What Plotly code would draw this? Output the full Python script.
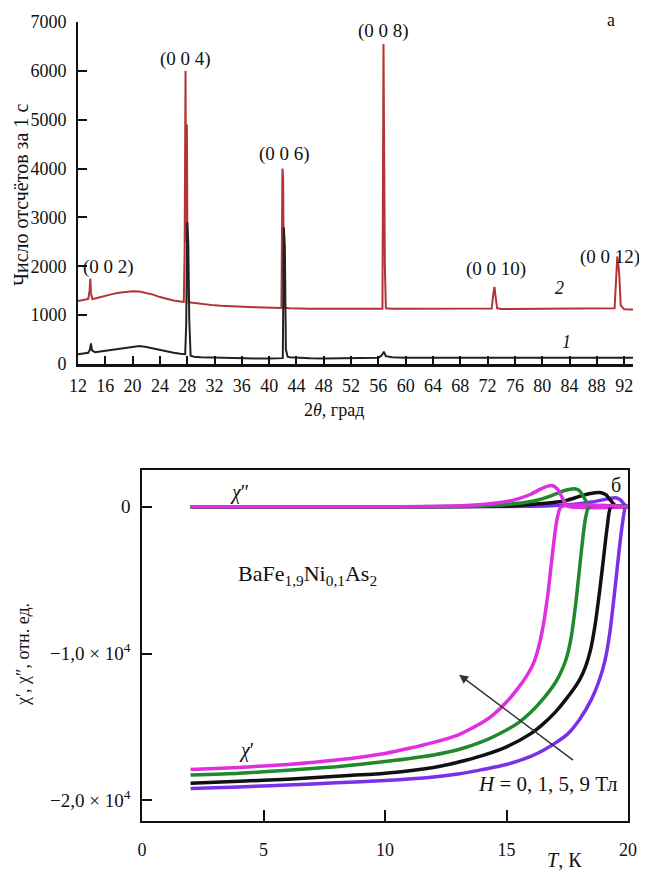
import plotly.graph_objects as go

# ---------------- top panel: XRD ----------------
tt_red = [12, 12.5, 13, 13.5, 13.7, 13.8, 13.9, 14.1, 14.5, 15, 16, 17, 18, 19, 20, 21, 22, 23, 24, 25, 26, 27,
          27.5, 27.62, 27.75, 27.85, 27.95, 28.05, 28.2, 28.5, 29, 30, 31, 32, 33, 34, 35, 36, 37, 38, 39, 40, 41,
          41.8, 41.95, 42.05, 42.15, 42.3, 43, 44, 46, 48, 50, 52, 54, 56, 56.6, 56.75, 56.85, 56.95, 57.1, 57.5,
          58, 60, 62, 64, 66, 68, 70, 72, 72.6, 72.85, 73.0, 73.15, 73.4, 74, 76, 78, 80, 82, 84, 86, 88, 90,
          90.6, 90.85, 91.0, 91.15, 91.3, 91.5, 92, 93, 93.3]
cnt_red = [1290, 1300, 1310, 1330, 1500, 1750, 1450, 1330, 1340, 1360, 1390, 1430, 1460, 1480, 1490, 1485, 1460,
           1420, 1370, 1330, 1300, 1280, 1270, 2300, 6000, 2500, 4900, 1800, 1260, 1260, 1250, 1230, 1215, 1200,
           1190, 1180, 1175, 1170, 1165, 1160, 1155, 1150, 1145, 1145, 4000, 3800, 1600, 1150, 1140, 1135, 1130,
           1130, 1130, 1130, 1130, 1130, 1130, 6550, 4400, 2000, 1140, 1135, 1130, 1130, 1130, 1130, 1130, 1130,
           1130, 1130, 1135, 1450, 1580, 1400, 1140, 1125, 1125, 1125, 1125, 1125, 1125, 1125, 1125, 1125,
           1140, 1800, 2200, 2050, 1800, 1200, 1120, 1115, 1115]

tt_blk = [12, 12.5, 13, 13.5, 13.75, 13.9, 14.05, 14.5, 15, 16, 17, 18, 19, 20, 21, 22, 23, 24, 25, 26, 27, 27.7,
          27.85, 28.0, 28.15, 28.3, 28.5, 29, 30, 32, 34, 36, 38, 40, 41, 42.0, 42.15, 42.3, 42.45, 42.7, 43, 44,
          46, 48, 50, 52, 54, 56, 56.5, 56.8, 57.1, 58, 60, 62, 64, 66, 68, 70, 72, 74, 76, 78, 80, 82, 84, 86,
          88, 90, 92, 93.3]
cnt_blk = [200, 210, 220, 230, 300, 420, 280, 240, 250, 270, 290, 320, 340, 360, 370, 350, 320, 280, 250, 230,
           210, 200, 800, 2900, 2500, 900, 170, 150, 140, 130, 125, 120, 115, 115, 115, 120, 2800, 2400, 300, 150,
           140, 130, 120, 115, 115, 115, 120, 130, 180, 250, 160, 140, 130, 130, 125, 130, 135, 130, 135, 130,
           135, 140, 130, 135, 140, 135, 140, 130, 130, 130]

xrd_tick_vals = [12, 16, 20, 24, 28, 32, 36, 40, 44, 48, 52, 56, 60, 64, 68, 72, 76, 80, 84, 88, 92]
cnt_tick_vals = [0, 1000, 2000, 3000, 4000, 5000, 6000, 7000]

peak_labels = ["(0 0 2)", "(0 0 4)", "(0 0 6)", "(0 0 8)", "(0 0 10)", "(0 0 12)"]
peak_label_x = [16.4, 27.7, 42.3, 56.8, 73.2, 89.9]
peak_label_y = [1980, 6240, 4290, 6810, 1950, 2180]

# ---------------- bottom panel: susceptibility ----------------
T_m = [2, 4, 6, 8, 10, 11, 12, 13, 14, 14.5, 15, 15.5, 15.8, 16.1, 16.3, 16.5, 16.7, 16.85, 17.0, 17.1, 17.25, 20]
chi1_m = [-17900, -17750, -17550, -17250, -16800, -16450, -16050, -15550, -14700, -14100, -13300, -12300, -11600,
          -10700, -9700, -8200, -6000, -3800, -1700, -700, 0, 0]
T_g = [2, 4, 6, 8, 10, 12, 13, 14, 15, 15.5, 16, 16.5, 17, 17.2, 17.45, 17.65, 17.85, 18.0, 18.15, 18.25, 18.4, 20]
chi1_g = [-18270, -18150, -17950, -17700, -17350, -16900, -16550, -16000, -15200, -14700, -14000, -13100, -12000,
          -11400, -10400, -9000, -6600, -4300, -2000, -800, 0, 0]
T_k = [2, 4, 6, 8, 10, 12, 13, 14, 15, 16, 16.5, 17, 17.5, 18, 18.25, 18.45, 18.65, 18.85, 19.0, 19.15, 19.3, 20]
chi1_k = [-18830, -18700, -18550, -18350, -18150, -17750, -17400, -16950, -16350, -15450, -14800, -14000, -13000,
          -11800, -10900, -9800, -8000, -5500, -3400, -1300, 0, 0]
T_p = [2, 4, 6, 8, 10, 12, 13, 14, 15, 16, 16.5, 17, 17.5, 18, 18.5, 18.8, 19.05, 19.25, 19.45, 19.6, 19.75, 19.9, 20]
chi1_p = [-19180, -19080, -18950, -18800, -18650, -18400, -18200, -17900, -17550, -17000, -16600, -16100, -15500,
          -14500, -13100, -11900, -10500, -8600, -5800, -3500, -1400, 0, 0]

T2_m = [2, 10, 13, 14, 15, 15.5, 16, 16.4, 16.7, 16.9, 17.1, 17.3, 17.5, 20]
chi2_m = [0, 0, 50, 150, 350, 550, 850, 1200, 1400, 1430, 1200, 600, 50, 0]
T2_g = [2, 10, 14, 15, 16, 16.5, 17, 17.4, 17.8, 18.0, 18.2, 18.4, 20]
chi2_g = [0, 0, 50, 150, 350, 550, 850, 1100, 1220, 1100, 600, 50, 0]
T2_k = [2, 10, 15, 16, 17, 17.5, 18, 18.4, 18.9, 19.1, 19.3, 19.5, 20]
chi2_k = [0, 0, 50, 150, 300, 450, 700, 880, 950, 800, 400, 50, 0]
T2_p = [2, 12, 16, 17, 18, 18.5, 19, 19.3, 19.5, 19.7, 19.85, 20]
chi2_p = [0, 0, 30, 80, 200, 320, 480, 580, 610, 450, 150, 0]

T_tick_vals = [0, 5, 10, 15, 20]
chi_tick_vals = [0, -10000, -20000]
chi_tick_text = ["0", "−1,0 × 10<sup>4</sup>", "−2,0 × 10<sup>4</sup>"]

MAG, GRN, BLK, PUR = "#e02ee0", "#1f8a2c", "#111111", "#7a30e8"
RED, DARK = "#b23434", "#222222"
FONT = "Liberation Serif"

W, H, OFF = 647, 881, 8  # page body margin offset compensation


def px(x):
    return (x - OFF) / W


def py(y):
    return 1 - (y - OFF) / H


fig = go.Figure()
fig.add_trace(go.Scatter(x=tt_red, y=cnt_red, mode="lines", line=dict(color=RED, width=2), xaxis="x", yaxis="y"))
fig.add_trace(go.Scatter(x=tt_blk, y=cnt_blk, mode="lines", line=dict(color=DARK, width=2), xaxis="x", yaxis="y"))

for T, v, c in [(T2_p, chi2_p, PUR), (T2_k, chi2_k, BLK), (T2_g, chi2_g, GRN), (T2_m, chi2_m, MAG)]:
    fig.add_trace(go.Scatter(x=T, y=v, mode="lines", line=dict(color=c, width=3.5, shape="spline", smoothing=0.6),
                             xaxis="x2", yaxis="y2"))
for T, v, c in [(T_p, chi1_p, PUR), (T_k, chi1_k, BLK), (T_g, chi1_g, GRN), (T_m, chi1_m, MAG)]:
    fig.add_trace(go.Scatter(x=T, y=v, mode="lines", line=dict(color=c, width=3.5, shape="spline", smoothing=0.6),
                             xaxis="x2", yaxis="y2"))

tickfont = dict(family=FONT, size=18, color="#111")
fig.update_layout(
    width=W, height=H, margin=dict(l=0, r=0, t=0, b=0, pad=0, autoexpand=False),
    paper_bgcolor="white", plot_bgcolor="white", showlegend=False,
    font=dict(family=FONT, size=18, color="#111"),
    xaxis=dict(domain=[px(78), px(633)], anchor="y", range=[12, 93.3], tickvals=xrd_tick_vals,
               ticks="inside", ticklen=8, tickwidth=1.5, tickcolor="#111", showline=True, linecolor="#111",
               linewidth=2.5, showgrid=False, zeroline=False, tickfont=tickfont, ticklabelstandoff=4,
               automargin=False),
    yaxis=dict(domain=[py(364), py(22)], anchor="x", range=[0, 7000], tickvals=cnt_tick_vals,
               ticks="inside", ticklen=9, tickwidth=2, tickcolor="#111", showline=True, linecolor="#111",
               linewidth=2, showgrid=False, zeroline=False, tickfont=tickfont, ticklabelstandoff=6,
               automargin=False),
    xaxis2=dict(domain=[px(142), px(628)], anchor="y2", range=[0, 20], tickvals=T_tick_vals,
                ticks="inside", ticklen=11, tickwidth=1.5, tickcolor="#111", showline=True, mirror=True,
                linecolor="#111", linewidth=1.5, showgrid=False, zeroline=False, tickfont=tickfont,
                ticklabelstandoff=12, automargin=False),
    yaxis2=dict(domain=[py(821), py(470)], anchor="x2", range=[-21400, 2500], tickvals=chi_tick_vals,
                ticktext=chi_tick_text, ticks="inside", ticklen=10, tickwidth=1.5, tickcolor="#111",
                showline=True, mirror=True, linecolor="#111", linewidth=1.5, showgrid=False, zeroline=False,
                tickfont=dict(family=FONT, size=19, color="#111"), ticklabelstandoff=6, automargin=False),
)

ann = []
for t, x, y in zip(peak_labels, peak_label_x, peak_label_y):
    ann.append(dict(text=t, x=x, y=y, xref="x", yref="y", showarrow=False, font=dict(size=19)))
ann += [
    dict(text="a", x=px(611), y=py(20), xref="paper", yref="paper", xanchor="center", yanchor="middle",
         showarrow=False, font=dict(size=18)),
    dict(text="<i>2</i>", x=82.6, y=1550, xref="x", yref="y", showarrow=False, font=dict(size=18)),
    dict(text="<i>1</i>", x=83.5, y=450, xref="x", yref="y", showarrow=False, font=dict(size=18)),
    dict(text="Число отсчётов за 1 с", x=px(21), y=py(195), xref="paper", yref="paper", textangle=-90,
         xanchor="center", yanchor="middle", showarrow=False, font=dict(size=20)),
    dict(text="2<i>θ</i>, град", x=px(334), y=py(410), xref="paper", yref="paper", xanchor="center",
         yanchor="middle", showarrow=False, font=dict(size=18)),
    dict(text="<i>χ</i>″", x=4.0, y=950, xref="x2", yref="y2", showarrow=False, font=dict(size=20)),
    dict(text="<i>χ</i>′", x=4.3, y=-16600, xref="x2", yref="y2", showarrow=False, font=dict(size=20)),
    dict(text="BaFe<sub>1,9</sub>Ni<sub>0,1</sub>As<sub>2</sub>", x=6.8, y=-4630, xref="x2", yref="y2",
         showarrow=False, font=dict(size=22)),
    dict(text="б", x=19.5, y=1500, xref="x2", yref="y2", showarrow=False, font=dict(size=20)),
    dict(text="<i>H</i> = 0, 1, 5, 9 Тл", x=16.7, y=-18890, xref="x2", yref="y2", showarrow=False,
         font=dict(size=21)),
    dict(text="", x=13.05, y=-11440, ax=17.8, ay=-17330, xref="x2", yref="y2", axref="x2", ayref="y2",
         showarrow=True, arrowhead=2, arrowsize=1.2, arrowwidth=1.5, arrowcolor="#333"),
    dict(text="χ′, χ″, отн. ед.", x=px(23), y=py(655), xref="paper", yref="paper", textangle=-90,
         xanchor="center", yanchor="middle", showarrow=False, font=dict(size=18)),
    dict(text="<i>T</i>, К", x=px(564), y=py(860), xref="paper", yref="paper", xanchor="center",
         yanchor="middle", showarrow=False, font=dict(size=20)),
]
fig.update_layout(annotations=ann)
fig.write_html("out.html")
